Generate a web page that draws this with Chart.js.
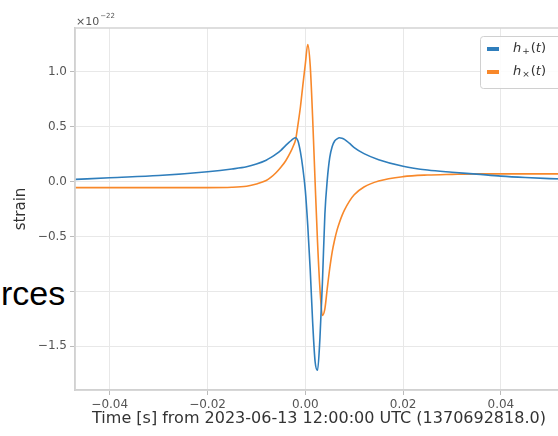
<!DOCTYPE html>
<html>
<head>
<meta charset="utf-8">
<script src="https://cdn.jsdelivr.net/npm/chart.js@4"></script>
<style>
  html, body { margin: 0; padding: 0; background: #fff; overflow: hidden; width: 558px; height: 436px; }
  #wrap { position: absolute; left: 0; top: 0; width: 600px; height: 436px; }
  #cut { position: absolute; left: 0; top: 277px; height: 33px; width: 69px; background: #fff;
         font-family: "Liberation Sans", Arial, sans-serif; font-size: 34px; line-height: 33px; color: #000;
         white-space: nowrap; overflow: hidden; text-indent: 1px; }
</style>
</head>
<body>
<div id="wrap"><canvas id="c"></canvas></div>
<div id="cut">rces</div>
<script>
// ---- data (strain in units of 1e-22) ----
const times = [-0.047, -0.04, -0.03, -0.02, -0.015, -0.012, -0.01, -0.008, -0.007, -0.006, -0.005, -0.004,
  -0.003, -0.0025, -0.002, -0.0015, -0.001, -0.0005, 0, 0.0005, 0.001, 0.0015, 0.002, 0.0025, 0.003,
  0.0035, 0.004, 0.0045, 0.005, 0.0055, 0.006, 0.0065, 0.007, 0.0075, 0.008, 0.009, 0.01, 0.012, 0.015,
  0.02, 0.025, 0.03, 0.035, 0.04, 0.045, 0.05, 0.055];
const hPlus = [0.02, 0.035, 0.055, 0.09, 0.115, 0.135, 0.16, 0.195, 0.22, 0.25, 0.285, 0.33,
  0.37, 0.39, 0.40, 0.37, 0.27, 0.12, -0.08, -0.40, -0.80, -1.28, -1.64, -1.72, -1.42,
  -0.92, -0.30, 0.02, 0.22, 0.32, 0.37, 0.39, 0.40, 0.395, 0.385, 0.35, 0.31, 0.255, 0.20,
  0.14, 0.105, 0.085, 0.068, 0.05, 0.037, 0.027, 0.02];
const hCross = [-0.055, -0.055, -0.055, -0.055, -0.052, -0.042, -0.022, 0.01, 0.04, 0.08, 0.13, 0.19,
  0.27, 0.32, 0.38, 0.52, 0.68, 0.88, 1.07, 1.25, 1.06, 0.58, 0.0, -0.55, -0.98,
  -1.22, -1.16, -0.97, -0.79, -0.64, -0.53, -0.44, -0.37, -0.31, -0.26, -0.18, -0.12, -0.05, 0.005,
  0.045, 0.06, 0.066, 0.07, 0.07, 0.07, 0.07, 0.07];
const seriesLabels = ["h₊(t)", "hₓ(t)"];
const xTicks = [-0.04, -0.02, 0.0, 0.02, 0.04];
const yTicks = [-1.5, -1.0, -0.5, 0.0, 0.5, 1.0];
const xTitle = "Time [s] from 2023-06-13 12:00:00 UTC (1370692818.0)";
const yTitle = "strain";

const FONT = "'DejaVu Sans', sans-serif";
const colors = ["#2f7ebc", "#f8882a"];

function minus(s) { return s.replace('-', '\u2212'); }

const decor = {
  id: 'decor',
  afterDraw(chart) {
    const ctx = chart.ctx, a = chart.chartArea;
    ctx.save();
    // frame
    ctx.strokeStyle = '#d4d4d4';
    ctx.lineWidth = 1.5;
    ctx.strokeRect(a.left, a.top, a.right - a.left, a.bottom - a.top);
    // axis titles
    ctx.fillStyle = '#333';
    ctx.font = "16px " + FONT;
    ctx.textAlign = 'center';
    ctx.textBaseline = 'middle';
    ctx.fillText(xTitle, (a.left + a.right) / 2, 419);
    ctx.save();
    ctx.translate(21, (a.top + a.bottom) / 2);
    ctx.rotate(-Math.PI / 2);
    ctx.font = "15px " + FONT;
    ctx.fillText(yTitle, 0, 0);
    ctx.restore();
    // offset text
    ctx.textAlign = 'left';
    ctx.textBaseline = 'alphabetic';
    ctx.fillStyle = '#555';
    ctx.font = "11px " + FONT;
    ctx.fillText('\u00d710', 76, 25);
    const w = ctx.measureText('\u00d710').width;
    ctx.font = "7px " + FONT;
    ctx.fillText('\u221222', 76 + w + 1, 18);
    // legend
    const lx = 480, ly = 36, lw = 110, lh = 52;
    ctx.fillStyle = 'rgba(255,255,255,0.85)';
    ctx.strokeStyle = '#d0d0d0';
    ctx.lineWidth = 1;
    ctx.beginPath();
    ctx.roundRect(lx + 0.5, ly + 0.5, lw, lh, 3);
    ctx.fill();
    ctx.stroke();
    chart.data.datasets.forEach((ds, i) => {
      const y = 49 + i * 23;
      ctx.fillStyle = ds.borderColor;
      ctx.fillRect(487, y - 2, 12, 4);
      ctx.fillStyle = '#333';
      ctx.font = "italic 13px " + FONT;
      ctx.textBaseline = 'middle';
      ctx.fillText('h', 513, y);
      let x = 513 + ctx.measureText('h').width;
      ctx.font = "9px " + FONT;
      const sub = i === 0 ? '+' : '\u00d7';
      ctx.fillText(sub, x + 1, y + 3);
      x += ctx.measureText(sub).width + 2;
      ctx.font = "13px " + FONT;
      ctx.fillText('(', x, y);
      x += ctx.measureText('(').width;
      ctx.font = "italic 13px " + FONT;
      ctx.fillText('t', x, y);
      x += ctx.measureText('t').width;
      ctx.font = "13px " + FONT;
      ctx.fillText(')', x, y);
    });
    ctx.restore();
  }
};

new Chart(document.getElementById('c'), {
  type: 'line',
  data: {
    datasets: [
      { label: seriesLabels[0], data: times.map((t, i) => ({ x: t, y: hPlus[i] })), borderColor: colors[0] },
      { label: seriesLabels[1], data: times.map((t, i) => ({ x: t, y: hCross[i] })), borderColor: colors[1] }
    ].map(d => Object.assign(d, { borderWidth: 1.6, pointRadius: 0, cubicInterpolationMode: 'monotone', fill: false }))
  },
  options: {
    responsive: true,
    maintainAspectRatio: false,
    animation: false,
    layout: { padding: { left: 0, top: 28, right: 37, bottom: 0 } },
    plugins: { legend: { display: false }, tooltip: { enabled: false } },
    scales: {
      x: {
        type: 'linear',
        min: -0.0471, max: 0.0527,
        afterBuildTicks: s => { s.ticks = xTicks.map(v => ({ value: v })); },
        afterFit: s => { s.height = 46; },
        grid: { color: '#e8e8e8', lineWidth: 1, tickLength: 5, tickColor: '#bbb' },
        border: { color: '#c8c8c8', width: 1.5 },
        ticks: { font: { family: FONT, size: 12 }, color: '#555', padding: 3, maxRotation: 0,
                 callback: v => minus(v.toFixed(2)) }
      },
      y: {
        type: 'linear',
        min: -1.9, max: 1.4,
        afterBuildTicks: s => { s.ticks = yTicks.map(v => ({ value: v })); },
        afterFit: s => { s.width = 75; },
        grid: { color: '#e8e8e8', lineWidth: 1, tickLength: 5, tickColor: '#bbb' },
        border: { color: '#c8c8c8', width: 1.5 },
        ticks: { font: { family: FONT, size: 12 }, color: '#555', padding: 3,
                 callback: v => minus(v.toFixed(1)) }
      }
    }
  },
  plugins: [decor]
});
</script>
</body>
</html>
